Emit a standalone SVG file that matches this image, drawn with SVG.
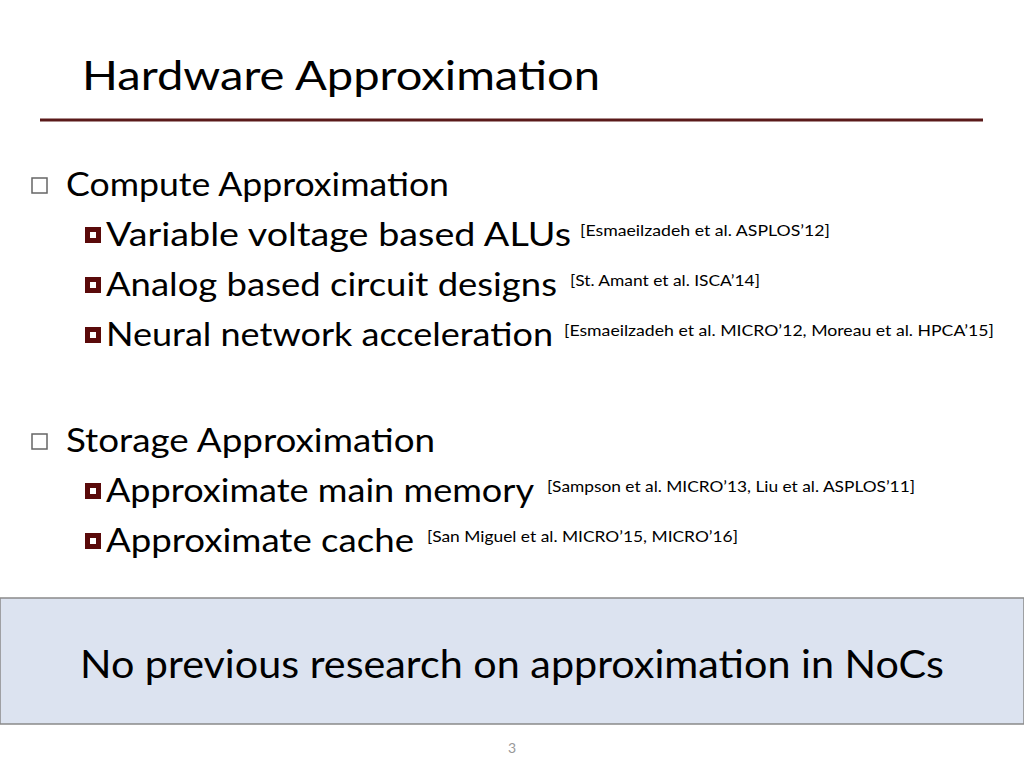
<svg xmlns="http://www.w3.org/2000/svg" width="1024" height="768" viewBox="0 0 1024 768">
<style>
.t{font-family:"Lato","Open Sans",sans-serif;fill:#000}
.b{font-size:32px}
.c{font-size:15px}
.hb{fill:#fff;stroke:#666;stroke-width:1.5}
.fb{fill:#fff;stroke:#5a0a0a;stroke-width:5}
</style>
<rect width="1024" height="768" fill="#fff"/>
<text class="t" x="82" y="90" font-size="40" textLength="518" lengthAdjust="spacingAndGlyphs">Hardware Approximation</text>
<line x1="40" y1="120" x2="983" y2="120" stroke="#5a1a1a" stroke-width="3"/>
<g id="compute">
<rect class="hb" x="32" y="178" width="15" height="15"/>
<text class="t b" x="66" y="196" textLength="383" lengthAdjust="spacingAndGlyphs">Compute Approximation</text>
<rect class="fb" x="87.5" y="229.5" width="11" height="11"/>
<text class="t b" x="106" y="246" textLength="465" lengthAdjust="spacingAndGlyphs">Variable voltage based ALUs</text>
<text class="t c" x="580" y="236" textLength="250" lengthAdjust="spacingAndGlyphs">[Esmaeilzadeh et al. ASPLOS’12]</text>
<rect class="fb" x="87.5" y="279.5" width="11" height="11"/>
<text class="t b" x="106" y="296" textLength="451" lengthAdjust="spacingAndGlyphs">Analog based circuit designs</text>
<text class="t c" x="570" y="286" textLength="190" lengthAdjust="spacingAndGlyphs">[St. Amant et al. ISCA’14]</text>
<rect class="fb" x="87.5" y="329.5" width="11" height="11"/>
<text class="t b" x="106" y="346" textLength="447" lengthAdjust="spacingAndGlyphs">Neural network acceleration</text>
<text class="t c" x="564" y="336" textLength="430" lengthAdjust="spacingAndGlyphs">[Esmaeilzadeh et al.  MICRO’12, Moreau et al. HPCA’15]</text>
</g>
<g id="storage">
<rect class="hb" x="32" y="434" width="15" height="15"/>
<text class="t b" x="66" y="452" textLength="369" lengthAdjust="spacingAndGlyphs">Storage Approximation</text>
<rect class="fb" x="87.5" y="485.5" width="11" height="11"/>
<text class="t b" x="106" y="502" textLength="428" lengthAdjust="spacingAndGlyphs">Approximate main memory</text>
<text class="t c" x="547" y="492" textLength="368" lengthAdjust="spacingAndGlyphs">[Sampson et al. MICRO’13, Liu et al. ASPLOS’11]</text>
<rect class="fb" x="87.5" y="535.5" width="11" height="11"/>
<text class="t b" x="106" y="552" textLength="308" lengthAdjust="spacingAndGlyphs">Approximate cache</text>
<text class="t c" x="427" y="542" textLength="311" lengthAdjust="spacingAndGlyphs">[San Miguel et al. MICRO’15, MICRO’16]</text>
</g>
<g id="box">
<rect x="0" y="598" width="1024" height="126" fill="#dce3f0" stroke="#8a8a8a" stroke-width="1.5"/>
<text class="t" x="80" y="678" font-size="38" textLength="864" lengthAdjust="spacingAndGlyphs">No previous research on approximation in NoCs</text>
</g>
<text x="512" y="753" font-family="Lato,sans-serif" font-size="14" fill="#999" text-anchor="middle">3</text>
</svg>
